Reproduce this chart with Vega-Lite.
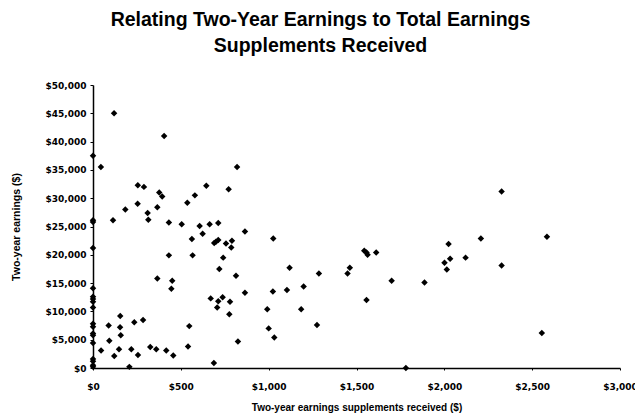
{
  "$schema": "https://vega.github.io/schema/vega-lite/v6.json",
  "autosize": "none",
  "width": 527,
  "height": 283,
  "padding": {"left": 93, "top": 85, "right": 15, "bottom": 50},
  "background": "white",
  "title": {
    "text": ["Relating Two-Year Earnings to Total Earnings", "Supplements Received"],
    "font": "Liberation Sans",
    "fontSize": 19.5,
    "fontWeight": "bold",
    "color": "black",
    "anchor": "middle",
    "lineHeight": 26,
    "dx": -36,
    "offset": 25
  },
  "config": {
    "view": {"stroke": null},
    "axis": {
      "grid": false,
      "domainColor": "black",
      "domainWidth": 1.5,
      "tickColor": "black",
      "tickSize": 3,
      "labelFont": "DejaVu Sans",
      "labelFontWeight": "bold",
      "labelFontSize": 9,
      "labelColor": "black",
      "titleFont": "Liberation Sans",
      "titleFontWeight": "bold",
      "titleFontSize": 10,
      "titleColor": "black"
    }
  },
  "data": {
    "values": [
      {"supp": 0, "earn": 37500}, {"supp": 0, "earn": 26100}, {"supp": 0, "earn": 25800},
      {"supp": 0, "earn": 21200}, {"supp": 0, "earn": 14100}, {"supp": 0, "earn": 12600},
      {"supp": 0, "earn": 12200}, {"supp": 0, "earn": 11700}, {"supp": 0, "earn": 10700},
      {"supp": 0, "earn": 7800}, {"supp": 0, "earn": 7300}, {"supp": 0, "earn": 6100},
      {"supp": 0, "earn": 5800}, {"supp": 0, "earn": 4400}, {"supp": 0, "earn": 1600},
      {"supp": 0, "earn": 1200}, {"supp": 0, "earn": 500}, {"supp": 0, "earn": 200},
      {"supp": 45, "earn": 35500}, {"supp": 120, "earn": 45000}, {"supp": 405, "earn": 41000},
      {"supp": 820, "earn": 35500}, {"supp": 255, "earn": 32300}, {"supp": 290, "earn": 32000},
      {"supp": 645, "earn": 32200}, {"supp": 377, "earn": 31000}, {"supp": 394, "earn": 30300},
      {"supp": 772, "earn": 31600}, {"supp": 580, "earn": 30500}, {"supp": 254, "earn": 29000},
      {"supp": 537, "earn": 29200}, {"supp": 184, "earn": 28000}, {"supp": 366, "earn": 28400},
      {"supp": 311, "earn": 27400}, {"supp": 315, "earn": 26200}, {"supp": 114, "earn": 26100},
      {"supp": 432, "earn": 25700}, {"supp": 505, "earn": 25400}, {"supp": 607, "earn": 25100},
      {"supp": 664, "earn": 25400}, {"supp": 713, "earn": 25600}, {"supp": 624, "earn": 23700},
      {"supp": 865, "earn": 24100}, {"supp": 563, "earn": 22800}, {"supp": 1026, "earn": 22900},
      {"supp": 690, "earn": 22100}, {"supp": 700, "earn": 22300}, {"supp": 713, "earn": 22600},
      {"supp": 757, "earn": 22000}, {"supp": 791, "earn": 22500}, {"supp": 787, "earn": 21300},
      {"supp": 432, "earn": 19900}, {"supp": 567, "earn": 19900}, {"supp": 741, "earn": 19500},
      {"supp": 719, "earn": 17500}, {"supp": 814, "earn": 16300}, {"supp": 366, "earn": 15800},
      {"supp": 451, "earn": 15400}, {"supp": 446, "earn": 14000}, {"supp": 865, "earn": 13300},
      {"supp": 1119, "earn": 17700}, {"supp": 1024, "earn": 13500}, {"supp": 1104, "earn": 13800},
      {"supp": 1199, "earn": 14400}, {"supp": 1286, "earn": 16700}, {"supp": 670, "earn": 12300},
      {"supp": 738, "earn": 12500}, {"supp": 713, "earn": 11800}, {"supp": 707, "earn": 10700},
      {"supp": 780, "earn": 11700}, {"supp": 776, "earn": 9500}, {"supp": 992, "earn": 10400},
      {"supp": 1185, "earn": 10400}, {"supp": 1275, "earn": 7600}, {"supp": 1000, "earn": 7000},
      {"supp": 1032, "earn": 5400}, {"supp": 825, "earn": 4700}, {"supp": 548, "earn": 7400},
      {"supp": 541, "earn": 3800}, {"supp": 688, "earn": 900}, {"supp": 207, "earn": 200},
      {"supp": 457, "earn": 2200}, {"supp": 417, "earn": 3100}, {"supp": 360, "earn": 3300},
      {"supp": 326, "earn": 3700}, {"supp": 256, "earn": 2300}, {"supp": 218, "earn": 3300},
      {"supp": 148, "earn": 3300}, {"supp": 121, "earn": 2100}, {"supp": 46, "earn": 3100},
      {"supp": 93, "earn": 4800}, {"supp": 89, "earn": 7500}, {"supp": 158, "earn": 5800},
      {"supp": 154, "earn": 7200}, {"supp": 155, "earn": 9200}, {"supp": 235, "earn": 8100},
      {"supp": 285, "earn": 8500},
      {"supp": 2326, "earn": 31200}, {"supp": 2208, "earn": 22900}, {"supp": 2584, "earn": 23200},
      {"supp": 2024, "earn": 21900}, {"supp": 2001, "earn": 18600}, {"supp": 2033, "earn": 19300},
      {"supp": 2014, "earn": 17400}, {"supp": 2121, "earn": 19500}, {"supp": 2326, "earn": 18100},
      {"supp": 1887, "earn": 15100}, {"supp": 1700, "earn": 15400}, {"supp": 1544, "earn": 20700},
      {"supp": 1557, "earn": 20400}, {"supp": 1563, "earn": 20000}, {"supp": 1612, "earn": 20400},
      {"supp": 1462, "earn": 17700}, {"supp": 1449, "earn": 16700}, {"supp": 1557, "earn": 12000},
      {"supp": 2555, "earn": 6200}, {"supp": 1781, "earn": 0}
    ]
  },
  "mark": {"type": "point", "shape": "diamond", "filled": true, "color": "black", "size": 42, "opacity": 1, "clip": false},
  "encoding": {
    "x": {
      "field": "supp",
      "type": "quantitative",
      "scale": {"domain": [0, 3000], "nice": false, "zero": true},
      "axis": {
        "title": "Two-year earnings supplements received ($)",
        "values": [0, 500, 1000, 1500, 2000, 2500, 3000],
        "format": "$,.0f",
        "tickSize": 2,
        "labelPadding": 12,
        "titlePadding": 11,
        "labelFlush": false
      }
    },
    "y": {
      "field": "earn",
      "type": "quantitative",
      "scale": {"domain": [0, 50000], "nice": false},
      "axis": {
        "title": "Two-year earnings ($)",
        "titleFontSize": 10.5,
        "values": [0, 5000, 10000, 15000, 20000, 25000, 30000, 35000, 40000, 45000, 50000],
        "format": "$,.0f",
        "labelPadding": 4,
        "titlePadding": 24,
        "labelFlush": false
      }
    }
  }
}
